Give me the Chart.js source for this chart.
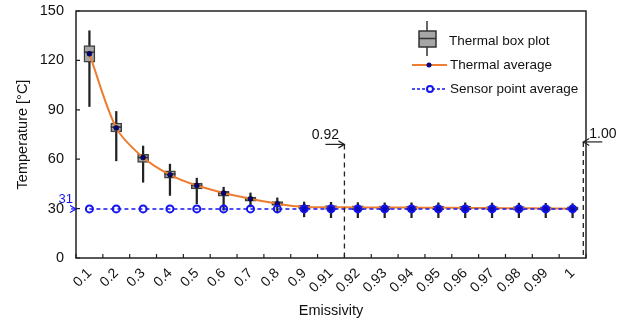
<!DOCTYPE html>
<html>
<head>
<meta charset="utf-8">
<script src="https://cdn.jsdelivr.net/npm/chart.js@4"></script>
<style>
  html, body { margin: 0; padding: 0; background: #fff; }
  #wrap { width: 629px; height: 320px; }
</style>
</head>
<body>
<div id="wrap"><canvas id="chart"></canvas></div>
<script>
// emissivity categories
const labels = ['0.1', '0.2', '0.3', '0.4', '0.5', '0.6', '0.7', '0.8', '0.9', '0.91',
  '0.92', '0.93', '0.94', '0.95', '0.96', '0.97', '0.98', '0.99', '1'];

// thermal box plot (°C)
const whiskerLow  = [92, 59, 46, 38, 33, 29, 31, 27.5, 25, 24.5, 24.5, 24.5, 24.5, 24.5, 24.5, 24.5, 24.5, 24.5, 24.5];
const whiskerHigh = [138, 89, 68, 57, 48.5, 43, 39.5, 36.5, 34, 33.8, 33.6, 33.5, 33.5, 33.5, 33.5, 33.4, 33.3, 33.2, 33];
const boxLow      = [119, 76.5, 58, 48.5, 42, 37.5, 34.5, 32, 30, 29.5, 29.4, 29.4, 29.3, 29.3, 29.2, 29.2, 29.1, 29.1, 29];
const boxHigh     = [129, 82, 63, 53, 45.5, 40.5, 37, 34.2, 32, 31.8, 31.7, 31.6, 31.6, 31.5, 31.4, 31.3, 31.2, 31.1, 31];
const medians     = [125, 79.5, 61, 51, 44, 39.5, 36, 33, 31, 30.7, 30.6, 30.5, 30.5, 30.4, 30.3, 30.2, 30.1, 30, 29.9];

// averages
const thermalAvg = [124, 79, 61, 50.5, 44, 39.5, 36, 33, 31, 30.8, 30.7, 30.6, 30.6, 30.5, 30.4, 30.3, 30.2, 30.1, 29.9];
const sensorAvg  = [29.8, 29.8, 29.8, 29.8, 29.8, 29.8, 29.8, 29.8, 29.8, 29.8, 29.8, 29.8, 29.8, 29.8, 29.8, 29.8, 29.8, 29.8, 29.8];
const sensorLabel = '31';

const yTicks = [0, 30, 60, 90, 120, 150];

// dashed markers: label, category position, top value
const markerText = ['0.92', '1.00'];
const markerAt   = [9.5, 18.4];
const markerTop  = [69, 70.5];

const FONT = "'Liberation Sans', Arial, sans-serif";
const ORANGE = '#ED7D31';
const BLUE = '#1414F0';

function arrowHead(ctx, x, y, dir) {
  ctx.beginPath();
  ctx.moveTo(x - dir * 6, y - 3.5);
  ctx.lineTo(x, y);
  ctx.lineTo(x - dir * 6, y + 3.5);
  ctx.stroke();
}

const framePlugin = {
  id: 'frame',
  afterDraw(chart) {
    const { ctx, chartArea: a, scales: { x, y } } = chart;
    ctx.save();
    ctx.strokeStyle = '#222';
    ctx.lineWidth = 1.5;
    ctx.strokeRect(a.left, a.top, a.right - a.left, a.bottom - a.top);
    ctx.lineWidth = 1.2;
    ctx.beginPath();
    yTicks.forEach(v => {
      const py = y.getPixelForValue(v);
      ctx.moveTo(a.left, py);
      ctx.lineTo(a.left + 4, py);
    });
    for (let i = 0; i <= labels.length; i++) {
      const px = x.getPixelForValue(i - 0.5);
      ctx.moveTo(px, a.bottom);
      ctx.lineTo(px, a.bottom - 4);
    }
    ctx.stroke();

    // dashed markers with arrows
    ctx.font = '14px ' + FONT;
    ctx.fillStyle = '#111';
    ctx.textBaseline = 'middle';
    markerText.forEach((t, i) => {
      const px = x.getPixelForValue(markerAt[i]);
      const top = y.getPixelForValue(markerTop[i]);
      ctx.strokeStyle = '#222';
      ctx.lineWidth = 1.3;
      ctx.setLineDash([5, 4]);
      ctx.beginPath();
      ctx.moveTo(px, top);
      ctx.lineTo(px, a.bottom);
      ctx.stroke();
      ctx.setLineDash([]);
      ctx.lineWidth = 1.2;
      const dir = i === 0 ? 1 : -1;
      ctx.beginPath();
      ctx.moveTo(px - dir * 19, top);
      ctx.lineTo(px, top);
      ctx.stroke();
      arrowHead(ctx, px, top, dir);
      if (i === 0) {
        ctx.textAlign = 'center';
        ctx.fillText(t, px - 19, top - 9);
      } else {
        ctx.textAlign = 'left';
        ctx.fillText(t, px + 6, top - 8);
      }
    });

    // sensor value label at the axis
    const sy = y.getPixelForValue(sensorAvg[0]);
    ctx.fillStyle = BLUE;
    ctx.strokeStyle = BLUE;
    ctx.font = '13px ' + FONT;
    ctx.textAlign = 'right';
    ctx.fillText(sensorLabel, a.left - 3, sy - 10);
    ctx.lineWidth = 1.2;
    ctx.beginPath();
    ctx.moveTo(a.left - 5, sy);
    ctx.lineTo(a.left, sy);
    ctx.stroke();
    arrowHead(ctx, a.left, sy, 1);

    // legend
    ctx.font = '13.5px ' + FONT;
    ctx.fillStyle = '#111';
    ctx.textAlign = 'left';
    // box icon
    ctx.strokeStyle = '#333';
    ctx.lineWidth = 1.5;
    ctx.beginPath();
    ctx.moveTo(427, 21); ctx.lineTo(427, 56);
    ctx.stroke();
    ctx.fillStyle = '#A6A6A6';
    ctx.fillRect(419, 31, 17, 16);
    ctx.strokeRect(419, 31, 17, 16);
    ctx.beginPath();
    ctx.moveTo(419, 38.5); ctx.lineTo(436, 38.5);
    ctx.stroke();
    ctx.fillStyle = '#111';
    ctx.fillText('Thermal box plot', 449, 41);
    // thermal average icon
    ctx.strokeStyle = ORANGE;
    ctx.lineWidth = 2;
    ctx.beginPath();
    ctx.moveTo(412, 65); ctx.lineTo(447, 65);
    ctx.stroke();
    ctx.fillStyle = '#000080';
    ctx.beginPath();
    ctx.arc(429, 65, 2.5, 0, Math.PI * 2);
    ctx.fill();
    ctx.fillStyle = '#111';
    ctx.fillText('Thermal average', 450, 65);
    // sensor icon
    ctx.strokeStyle = BLUE;
    ctx.lineWidth = 1.5;
    ctx.setLineDash([3, 2]);
    ctx.beginPath();
    ctx.moveTo(412, 89); ctx.lineTo(447, 89);
    ctx.stroke();
    ctx.setLineDash([]);
    ctx.fillStyle = '#fff';
    ctx.beginPath();
    ctx.arc(430, 89, 3, 0, Math.PI * 2);
    ctx.fill();
    ctx.lineWidth = 2;
    ctx.stroke();
    ctx.fillStyle = '#111';
    ctx.fillText('Sensor point average', 450, 89);
    ctx.restore();
  }
};

new Chart(document.getElementById('chart'), {
  data: {
    labels: labels,
    datasets: [
      {
        type: 'bar',
        label: 'whisker',
        data: labels.map((_, i) => [whiskerLow[i], whiskerHigh[i]]),
        backgroundColor: '#222',
        barThickness: 1.6,
        grouped: false,
        order: 5
      },
      {
        type: 'bar',
        label: 'Thermal box plot',
        data: labels.map((_, i) => [boxLow[i], boxHigh[i]]),
        backgroundColor: '#A6A6A6',
        borderColor: '#404040',
        borderWidth: 1.5,
        borderSkipped: false,
        barThickness: 11,
        grouped: false,
        order: 4
      },
      {
        type: 'line',
        label: 'median',
        data: medians,
        showLine: false,
        pointStyle: 'line',
        pointRadius: 5.5,
        borderColor: '#333',
        borderWidth: 1.5,
        order: 3
      },
      {
        type: 'line',
        label: 'Thermal average',
        data: thermalAvg,
        borderColor: ORANGE,
        borderWidth: 2,
        tension: 0.3,
        pointRadius: 2.5,
        pointBackgroundColor: '#000080',
        pointBorderColor: '#000',
        pointBorderWidth: 0.5,
        order: 2
      },
      {
        type: 'line',
        label: 'Sensor point average',
        data: sensorAvg,
        borderColor: BLUE,
        borderWidth: 1.5,
        borderDash: [4, 3],
        pointRadius: 3.5,
        pointBorderWidth: 2,
        // where the markers sit on the boxes they read as solid
        pointBackgroundColor: labels.map((_, i) => (i < 8 ? 'rgba(0,0,0,0)' : '#0A0AB4')),
        pointBorderColor: BLUE,
        order: 1
      }
    ]
  },
  options: {
    responsive: true,
    maintainAspectRatio: false,
    animation: false,
    layout: { padding: { left: 0, right: 43, top: 11, bottom: 0 } },
    plugins: {
      legend: { display: false },
      tooltip: { enabled: false }
    },
    scales: {
      x: {
        type: 'category',
        offset: true,
        grid: { display: false, drawTicks: false },
        border: { display: false },
        ticks: {
          autoSkip: false,
          minRotation: 45,
          maxRotation: 45,
          padding: 7,
          color: '#111',
          font: { family: FONT, size: 14 }
        },
        title: {
          display: true,
          text: 'Emissivity',
          color: '#111',
          font: { family: FONT, size: 14.5 },
          padding: { top: 0, bottom: 0 }
        },
        afterFit: s => { s.height = 62; s.paddingTop = 0; }
      },
      y: {
        min: 0,
        max: 150,
        afterBuildTicks: s => { s.ticks = yTicks.map(v => ({ value: v })); },
        grid: { display: false, drawTicks: false },
        border: { display: false },
        ticks: {
          padding: 12,
          color: '#111',
          font: { family: FONT, size: 14.5 }
        },
        title: {
          display: true,
          text: 'Temperature [°C]',
          color: '#111',
          font: { family: FONT, size: 14.5 },
          padding: { top: 14, bottom: 0 }
        },
        afterFit: s => { s.width = 76; s.paddingTop = 0; s.paddingBottom = 0; }
      }
    }
  },
  plugins: [framePlugin]
});
</script>
</body>
</html>
